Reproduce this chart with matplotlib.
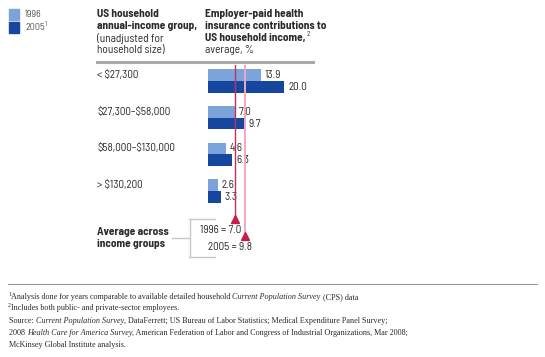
import matplotlib
matplotlib.use('Agg')
import matplotlib.pyplot as plt
import numpy as np

# Data
groups = ['< \\$27,300', '\\$27,300–\\$58,000', '\\$58,000–\\$130,000', '> \\$130,200']
share_1996 = [13.9, 7.0, 4.6, 2.6]
share_2005 = [20.0, 9.7, 6.3, 3.3]
avg_1996 = 7.0
avg_2005 = 9.8

LIGHT = '#7DA4DA'
DARK = '#16479E'
LINE96 = '#C3305A'
LINE05 = '#F2A7C0'
TRI = '#C41E4A'
GREY = '#C8C8C8'
TXT = '#2B2B2B'

SANS = ['Barlow Semi Condensed', 'Roboto', 'DejaVu Sans']
SERIF = ['Liberation Serif', 'DejaVu Serif']

W, H = 545, 357
fig = plt.figure(figsize=(W / 100, H / 100), dpi=100)
fig.patch.set_facecolor('white')
renderer = fig.canvas.get_renderer()


def put(x, y, s, **kw):
    kw.setdefault('va', 'center')
    kw.setdefault('color', TXT)
    return fig.text(x / W, 1 - y / H, s, **kw)


def width(t):
    return t.get_window_extent(renderer).width


def runs(x, y, parts, **kw):
    # draw pieces of one line with mixed styles
    for s, st in parts:
        t = put(x, y, s, fontstyle=st, **kw)
        x += width(t)


def hline(x0, x1, y, **kw):
    fig.add_artist(plt.Line2D([x0 / W, x1 / W], [1 - y / H, 1 - y / H], **kw))


def vline(x, y0, y1, **kw):
    fig.add_artist(plt.Line2D([x / W, x / W], [1 - y0 / H, 1 - y1 / H], **kw))


# legend
for yy, col, lab in [(14.5, LIGHT, '1996'), (27.5, DARK, '2005')]:
    fig.add_artist(plt.Rectangle((9 / W, 1 - (yy + 5) / H), 10 / W, 10 / H,
                                 color=col, transform=fig.transFigure))
    t = put(25, yy, lab, family=SANS, fontsize=7.2, color='#555555')
put(25 + width(t) + 0.5, 25, '1', family=SANS, fontsize=5, color='#555555')

# column headers
hs = 8.2
put(97, 14, 'US household', family=SANS, fontsize=hs, fontweight='bold')
put(97, 26, 'annual-income group,', family=SANS, fontsize=hs, fontweight='bold')
put(97, 38, '(unadjusted for', family=SANS, fontsize=hs)
put(97, 50, 'household size)', family=SANS, fontsize=hs)
put(205, 14, 'Employer-paid health', family=SANS, fontsize=hs, fontweight='bold')
put(205, 26, 'insurance contributions to', family=SANS, fontsize=hs, fontweight='bold')
t = put(205, 38, 'US household income,', family=SANS, fontsize=hs, fontweight='bold')
put(205 + width(t) + 1, 35, '2', family=SANS, fontsize=5)
put(205, 50, 'average, %', family=SANS, fontsize=hs)
hline(97, 313, 62, color='#AAAAAA', lw=2.2)

# bar axes
x0, px_per = 208, 3.81
top, bot = 65, 262
yc0, step = 81, 36.7
ax = fig.add_axes([x0 / W, 1 - bot / H, 25 * px_per / W, (bot - top) / H])
ax.set_xlim(0, 25)
ax.set_ylim((bot - yc0) / step, (top - yc0) / step)
ax.axis('off')

pos = np.arange(len(groups))
hbar = 11.8 / step
b1 = ax.barh(pos - hbar / 2, share_1996, height=hbar, color=LIGHT, zorder=2)
b2 = ax.barh(pos + hbar / 2, share_2005, height=hbar, color=DARK, zorder=2)
for rects, vals in [(b1, share_1996), (b2, share_2005)]:
    for r, v in zip(rects, vals):
        ax.annotate(f'{v:.1f}', (v, r.get_y() + r.get_height() / 2),
                    xytext=(2.8, 0), textcoords='offset points',
                    va='center', ha='left', family=SANS, fontsize=8,
                    color=TXT)

for i, g in enumerate(groups):
    put(97, yc0 + i * step - 6, g, family=SANS, fontsize=8)

# average lines with triangles
y_tri96 = (219 - yc0) / step
y_tri05 = (236 - yc0) / step
ylo = ax.get_ylim()[1]
ax.plot([avg_1996, avg_1996], [ylo, y_tri96 - 0.05], color=LINE96, lw=1.0, zorder=3)
ax.plot([avg_2005, avg_2005], [ylo, y_tri05 - 0.05], color=LINE05, lw=1.4, zorder=3)
ax.plot([avg_1996], [y_tri96], marker='^', ms=5.5, color=TRI, zorder=4, clip_on=False)
ax.plot([avg_2005], [y_tri05], marker='^', ms=5.5, color=TRI, zorder=4, clip_on=False)
ax.annotate(f'1996 = {avg_1996:.1f}', (avg_1996, y_tri96), xytext=(4.5, -8),
            textcoords='offset points', ha='right', va='center',
            family=SANS, fontsize=8, color=TXT, annotation_clip=False)
ax.annotate(f'2005 = {avg_2005:.1f}', (avg_2005, y_tri05), xytext=(4.5, -8),
            textcoords='offset points', ha='right', va='center',
            family=SANS, fontsize=8, color=TXT, annotation_clip=False)

# "Average across" label with bracket
put(97, 232, 'Average across', family=SANS, fontsize=hs, fontweight='bold')
put(97, 244, 'income groups', family=SANS, fontsize=hs, fontweight='bold')
hline(172, 189, 238, color=GREY, lw=1)
vline(189.5, 219, 257, color=GREY, lw=1)
hline(189, 215, 219, color=GREY, lw=1)
hline(189, 215, 257, color=GREY, lw=1)

# footer
hline(8, 537, 284, color='#999999', lw=0.8)
fs = 5.9
put(8, 294.5, '1', family=SERIF, fontsize=4.3)
runs(11, 297, [('Analysis done for years comparable to available detailed household ', 'normal'),
               ('Current Population Survey', 'italic'),
               (' (CPS) data', 'normal')], family=SERIF, fontsize=fs)
put(8, 305.5, '2', family=SERIF, fontsize=4.3)
put(11, 308, 'Includes both public- and private-sector employees.', family=SERIF, fontsize=fs)
runs(9, 321, [('Source: ', 'normal'), ('Current Population Survey', 'italic'),
              (', DataFerrett; US Bureau of Labor Statistics; Medical Expenditure Panel Survey;', 'normal')],
     family=SERIF, fontsize=fs)
runs(9, 333, [('2008 ', 'normal'), ('Health Care for America Survey', 'italic'),
              (', American Federation of Labor and Congress of Industrial Organizations, Mar 2008;', 'normal')],
     family=SERIF, fontsize=fs)
put(9, 345, 'McKinsey Global Institute analysis.', family=SERIF, fontsize=fs)

fig.savefig('out.png', dpi=100, facecolor='white')
